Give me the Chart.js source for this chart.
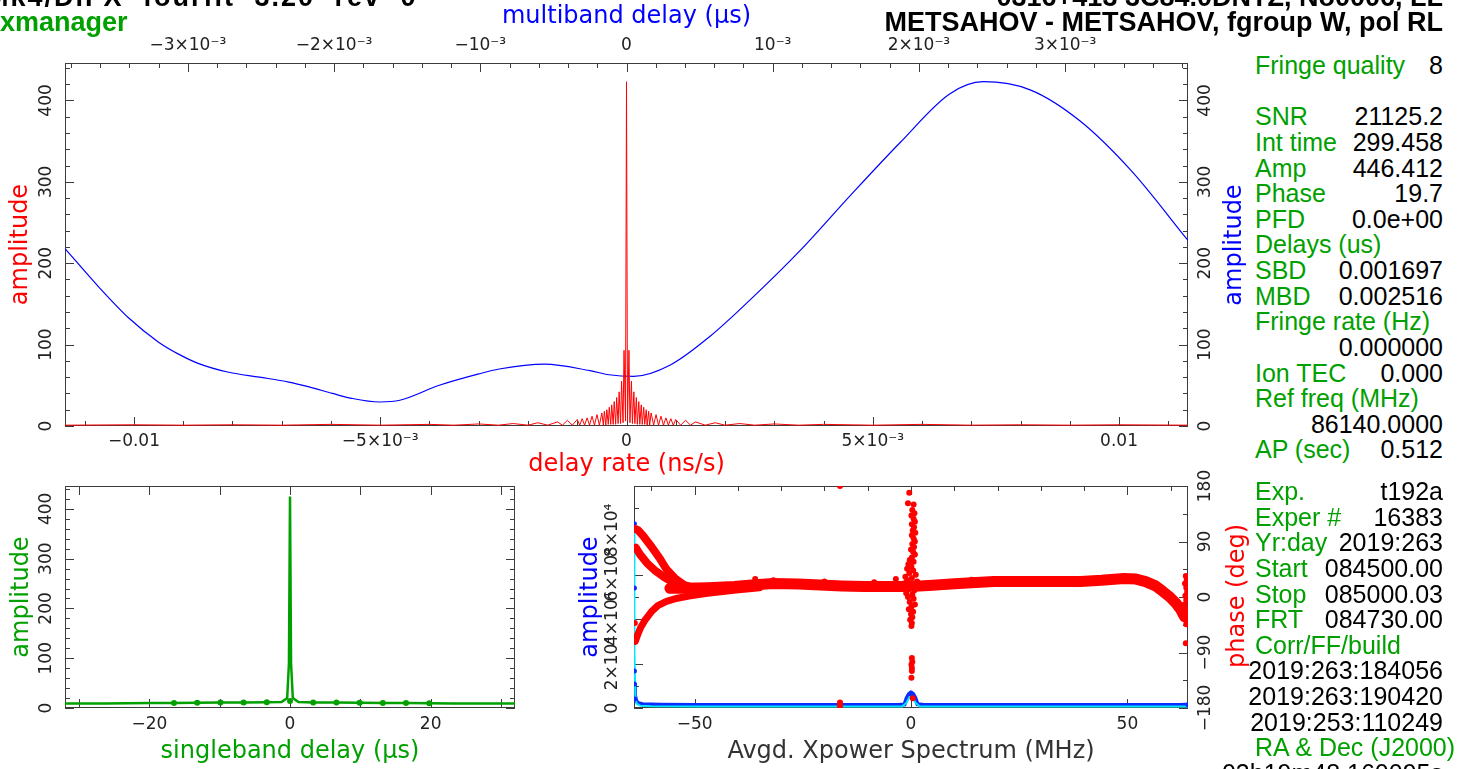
<!DOCTYPE html>
<html>
<head>
<meta charset="utf-8">
<title>fourfit fringe plot</title>
<script src="https://cdn.jsdelivr.net/npm/chart.js@4.4.1/dist/chart.umd.min.js"></script>
<style>
  body { margin: 0; background: #fff; }
  #page { position: relative; width: 1462px; height: 769px; overflow: hidden; font-family: 'Liberation Sans', Arial, sans-serif; }
  canvas { position: absolute; }
  .hdr { position: absolute; font-weight: bold; font-size: 27px; line-height: 27px; white-space: nowrap; }
  .side { position: absolute; left: 1255px; width: 188px; font-size: 25px; line-height: 25.64px; }
  .side div { position: relative; height: 25.64px; white-space: nowrap; color: #00a000; }
  .side span { position: absolute; right: 0; top: 0; color: #000; }
  .vtitle { position: absolute; font-family: 'DejaVu Sans'; font-size: 24px; white-space: nowrap; transform: translate(-50%, -50%) rotate(-90deg); }
</style>
</head>
<body>
<div id="page">
  <canvas id="rateChart" width="1250" height="480" style="left:0;top:0"></canvas>
  <canvas id="sbdChart" width="560" height="299" style="left:0;top:470px"></canvas>
  <canvas id="xpChart" width="700" height="299" style="left:560px;top:470px"></canvas>

  <div class="hdr" style="left:-14px;top:-16px;letter-spacing:2px;word-spacing:10px">Mk4/DiFX fourfit 3.20 rev 0</div>
  <div class="hdr" style="right:19px;top:-16px">0316+413 3C84.0DNTZ, No0006, LL</div>
  <div class="hdr" style="left:0;top:9px;color:#00a000">xmanager</div>
  <div class="hdr" style="right:19px;top:9px">METSAHOV - METSAHOV, fgroup W, pol RL</div>

  <div class="vtitle" style="left:1233px;top:245px;color:#0000ff">amplitude</div>
  <div class="vtitle" style="left:1236px;top:596px;color:#ff0000">phase (deg)</div>

  <div class="side" style="top:53px">
    <div>Fringe quality<span>8</span></div>
    <div></div>
    <div>SNR<span>21125.2</span></div>
    <div>Int time<span>299.458</span></div>
    <div>Amp<span>446.412</span></div>
    <div>Phase<span>19.7</span></div>
    <div>PFD<span>0.0e+00</span></div>
    <div>Delays (us)</div>
    <div>SBD<span>0.001697</span></div>
    <div>MBD<span>0.002516</span></div>
    <div>Fringe rate (Hz)</div>
    <div><span>0.000000</span></div>
    <div>Ion TEC<span>0.000</span></div>
    <div>Ref freq (MHz)</div>
    <div><span>86140.0000</span></div>
    <div>AP (sec)<span>0.512</span></div>
  </div>
  <div class="side" style="top:479px">
    <div>Exp.<span>t192a</span></div>
    <div>Exper #<span>16383</span></div>
    <div>Yr:day<span>2019:263</span></div>
    <div>Start<span>084500.00</span></div>
    <div>Stop<span>085000.03</span></div>
    <div>FRT<span>084730.00</span></div>
    <div>Corr/FF/build</div>
    <div><span>2019:263:184056</span></div>
    <div><span>2019:263:190420</span></div>
    <div><span>2019:253:110249</span></div>
    <div>RA &amp; Dec (J2000)</div>
    <div><span>03h19m48.160095s</span></div>
  </div>
</div>

<script>
// delay rate spectrum (ns/s), red
const rateX = [-0.0114, -0.01, -0.009, -0.008, -0.007, -0.006, -0.005, -0.004, -0.0035, -0.003,
  -0.0026, -0.0023, -0.002, -0.0018, -0.0016, -0.0014, -0.0013, -0.0012, -0.0011, -0.001,
  -0.00095, -0.0009, -0.00085, -0.0008, -0.00075, -0.0007, -0.00065, -0.0006, -0.00055, -0.0005,
  -0.00047, -0.00045, -0.00042, -0.0004, -0.00037, -0.00035, -0.00032, -0.0003, -0.00027, -0.00025,
  -0.00022, -0.0002, -0.00017, -0.00015, -0.00012, -0.0001, -0.00007, -0.00005, -0.00002, 0,
  0.00002, 0.00005, 0.00007, 0.0001, 0.00012, 0.00015, 0.00017, 0.0002, 0.00022, 0.00025,
  0.00027, 0.0003, 0.00032, 0.00035, 0.00037, 0.0004, 0.00042, 0.00045, 0.00047, 0.0005,
  0.00055, 0.0006, 0.00065, 0.0007, 0.00075, 0.0008, 0.00085, 0.0009, 0.00095, 0.001,
  0.0011, 0.0012, 0.0013, 0.0014, 0.0016, 0.0018, 0.002, 0.0023, 0.0026, 0.003,
  0.0035, 0.004, 0.005, 0.006, 0.007, 0.008, 0.009, 0.01, 0.0114];
const rateAmp = [1, 1.5, 1, 1.5, 1, 2, 1, 2, 1, 2.5,
  1, 3, 1, 4, 1, 5, 1, 7, 1, 8,
  1, 9, 1, 10, 1, 12, 1, 14, 1, 16,
  1, 18, 1, 20, 2, 23, 2, 26, 2, 30,
  2, 35, 3, 42, 3, 55, 4, 93, 6, 423,
  6, 93, 4, 55, 3, 42, 3, 35, 2, 30,
  2, 26, 2, 23, 2, 20, 1, 18, 1, 16,
  1, 14, 1, 12, 1, 10, 1, 9, 1, 8,
  1, 7, 1, 5, 1, 4, 1, 3, 1, 2.5,
  1, 2, 1, 2, 1, 1.5, 1, 1.5, 1];

// multiband delay amplitude (us), blue
const mbdX = [-0.00384, -0.00361, -0.0034, -0.0032, -0.00306, -0.00293, -0.00272, -0.00251, -0.00231, -0.00217,
  -0.00201, -0.00188, -0.00169, -0.00155, -0.00128, -0.00101, -0.00087, -0.00056, -0.00025, -0.00012,
  0.00005, 0.0003, 0.00057, 0.00084, 0.00119, 0.00153, 0.00187, 0.00221, 0.00244, 0.00276,
  0.0031, 0.00345, 0.00384];
const mbdAmp = [218, 171, 132, 103, 88, 77, 66, 60, 54, 48,
  40, 34, 29.5, 31.6, 50, 64, 70, 76, 68, 63,
  61, 75, 110, 154, 216, 283, 348, 408, 423, 413,
  375, 314, 228];

// singleband delay (us), green
const sbdX = [-32, -29.7, -26.4, -23.1, -19.8, -16.5, -13.2, -9.9, -6.6, -3.3, -1.2, -0.4, -0.15, 0,
  0.15, 0.4, 1.2, 3.3, 6.6, 9.9, 13.2, 16.5, 19.8, 23.1, 26.4, 29.7, 32];
const sbdAmp = [9, 9, 9, 9.5, 10, 10, 10.5, 11, 11, 11.5, 12, 20, 90, 425,
  90, 20, 12, 11, 11, 10.5, 10, 10, 9.5, 9, 9, 9, 9];
const sbdDotX = [-16.5, -13.2, -9.9, -6.6, -3.3, 0, 3.3, 6.6, 9.9, 13.2, 16.5, 19.8];
const sbdDotAmp = [10, 10.5, 11, 11, 11.5, 14, 11, 11, 10.5, 10, 10, 9.5];

// averaged cross power spectrum (MHz)
const xpBlueX = [-64, -63.8, -63.5, -63, -62, -58, -50, -40, -30, -20, -10, -3, -1.5, -1, -0.5, 0,
  0.5, 1, 1.5, 3, 10, 20, 30, 40, 50, 58, 62, 63.5, 64];
const xpBlueAmp = [11000, 6000, 3200, 2200, 1700, 1500, 1400, 1400, 1400, 1400, 1400, 1400, 1600, 4500, 6200, 6800,
  6300, 4600, 1700, 1400, 1400, 1400, 1400, 1400, 1400, 1400, 1400, 1500, 1500];
const xpCyanX = [-64, -63.9, -63.7, -63.4, -62.5, -60, -50, -30, -10, -2, -1, -0.4, 0, 0.4, 1, 2, 10, 30, 50, 60, 64];
const xpCyanAmp = [80000, 25000, 6000, 2000, 1000, 800, 700, 700, 700, 700, 2500, 4800, 5200, 4800, 2500, 700, 700, 700, 700, 700, 700];
const xpDotX = [-63.9, -63.9, -63.9, -63.9, -63.8, 0, 0.3, 64];
const xpDotAmp = [83000, 54000, 16700, 10800, 4000, 6800, 6000, 1500];

// phase (deg): main band and the three branches at the low edge
const phaseMainX = [-55.7, -52, -47, -40.8, -36, -31.8, -26, -21, -16, -10.9, -5, -2, 0, 2, 5, 9.2, 14, 19.2,
  24, 29.1, 34, 39.2, 44, 49.2, 52, 54.2, 56.5, 58.2, 59.8, 61.2, 62.3, 63.2];
const phaseMainDeg = [14, 14, 15, 17, 20, 22, 21, 19.5, 18, 17, 17, 17, 18, 18, 19, 21, 23, 25,
  25, 25, 25, 25, 27, 30, 29, 25, 18, 9, 0, -10, -20, -32];
const phaseUpperX = [-63.6, -63, -62, -60, -58, -56.5, -54.5, -52.5, -50.5];
const phaseUpperDeg = [110, 108, 100, 82, 62, 45, 30, 20, 15];
const phaseMidX = [-63.6, -62.5, -61, -59, -57, -55, -53, -50, -47];
const phaseMidDeg = [80, 68, 55, 42, 32, 24, 19, 15, 14];
const phaseLowX = [-63.7, -63.2, -62.5, -61.5, -60, -58.5, -56.5, -54, -51, -47, -41, -35];
const phaseLowDeg = [-72, -62, -50, -38, -24, -14, -7, -2, 2, 6, 11, 15];
const phaseDotX = [-0.4, -0.7, 0.6, 0.3, 0.8, 0.1, 0.6, 0.9, 0.2, 0.7, 0.4, 1.0, 0.2, 0.6, 0.9, 0.3, 0.7, 0.0,
  0.5, 0.9, 0.2, -0.3, 0.6, -0.6, 0.1, -0.9, 0.5, -0.4, 1.1, -1.3, 0.2, -0.9, 1.4, -1.6, -0.6, 0.8,
  -1.1, 0.3, -0.7, 0.6, -0.3, 0.9, 0.1, -0.5, 0.5, 0.0, 0.3, -0.2, 0.2, 0.1, 0.2, 0.3, 0.1, 0.2,
  0.2, 0.1, 0.4, -16.4, -16.4, -16.4, -16.4, -63.8, 63.5, 63.7, 63.3, 63.6, 63.8, 63.4, 63.6, 63.2,
  63.7, 63.5, 63.4, 63.6, 63.5, -36, -31.8, -20, -8.5, -3.5, 14, 18.5, 26, 40];
const phaseDotDeg = [169, 152, 150, 141, 136, 132, 127, 122, 118, 113, 108, 104, 100, 95, 90, 86, 81, 77,
  73, 69, 64, 60, 57, 53, 49, 46, 43, 39, 36, 33, 31, 27, 25, 22, 12, 11,
  6, 4, 0, -3, -8, -12, -16, -20, -24, -28, -33, -37, -42, -47, -99, -105, -110, -115,
  -120, -131, -164, 180, -171, -174, -177, -42, 34, 28, 22, 15, 8, 2, -5, -12,
  -20, -28, -36, -44, -75, 29, 27, 25, 24, 29, 28, 27, 27, 28];

// axis ticks and their labels
const rateTicks = [-0.01, -0.005, 0, 0.005, 0.01];
const rateTickLabels = ['−0.01', '−5×10⁻³', '0', '5×10⁻³', '0.01'];
const mbdTicks = [-0.003, -0.002, -0.001, 0, 0.001, 0.002, 0.003];
const mbdTickLabels = ['−3×10⁻³', '−2×10⁻³', '−10⁻³', '0', '10⁻³', '2×10⁻³', '3×10⁻³'];
const ampTicks = [0, 100, 200, 300, 400];
const ampTickLabels = ['0', '100', '200', '300', '400'];
const sbdTicks = [-20, 0, 20];
const sbdTickLabels = ['−20', '0', '20'];
const freqTicks = [-50, 0, 50];
const freqTickLabels = ['−50', '0', '50'];
const xpAmpTicks = [0, 20000, 40000, 60000, 80000];
const xpAmpTickLabels = ['0', '2×10⁴', '4×10⁴', '6×10⁴', '8×10⁴'];
const phaseTicks = [-180, -90, 0, 90, 180];
const phaseTickLabels = ['−180', '−90', '0', '90', '180'];

const RED = '#ff0000', BLUE = '#0000ff', GREEN = '#00a000', CYAN = '#00e8ff';
const tickFont = { family: 'DejaVu Sans', size: 17 };
const titleFont = { family: 'DejaVu Sans', size: 24 };

function pts(xs, ys) {
    return xs.map((x, i) => ({ x: x, y: ys[i] }));
}

function steps(from, to, step) {
    const out = [];
    for (let v = from; v <= to + step / 1000; v += step) out.push(+v.toFixed(7));
    return out;
}

// PGPLOT style box: frame plus inward ticks on every side
const pgFrame = {
    id: 'pgFrame',
    beforeDatasetsDraw(chart, args, opts) {
        const { ctx, chartArea: a } = chart;
        ctx.save();
        ctx.strokeStyle = '#3c3c3c';
        ctx.lineWidth = 1;
        ctx.strokeRect(Math.round(a.left) + 0.5, Math.round(a.top) + 0.5, Math.round(a.width) - 1, Math.round(a.height) - 1);
        ctx.beginPath();
        opts.sides.forEach(s => {
            const sc = chart.scales[s.scale];
            const mark = (v, len) => {
                const p = Math.round(sc.getPixelForValue(v)) + 0.5;
                if (s.edge === 'bottom') { ctx.moveTo(p, a.bottom); ctx.lineTo(p, a.bottom - len); }
                else if (s.edge === 'top') { ctx.moveTo(p, a.top); ctx.lineTo(p, a.top + len); }
                else if (s.edge === 'left') { ctx.moveTo(a.left, p); ctx.lineTo(a.left + len, p); }
                else { ctx.moveTo(a.right, p); ctx.lineTo(a.right - len, p); }
            };
            (s.minor || []).forEach(v => mark(v, 5));
            s.major.forEach(v => mark(v, 9));
        });
        ctx.stroke();
        ctx.restore();
    }
};

function makeScale(o) {
    const horizontal = o.position === 'top' || o.position === 'bottom';
    return {
        type: 'linear',
        position: o.position,
        min: o.min,
        max: o.max,
        display: true,
        grid: { display: false, drawTicks: false },
        border: { display: false },
        afterBuildTicks: scale => { scale.ticks = o.ticks.map(v => ({ value: v })); },
        afterFit: scale => {
            if (horizontal) scale.height = o.size;
            else scale.width = o.size;
        },
        ticks: {
            autoSkip: false,
            padding: o.pad,
            color: '#222',
            font: tickFont,
            minRotation: horizontal ? 0 : 90,
            maxRotation: horizontal ? 0 : 90,
            crossAlign: horizontal ? 'near' : 'center',
            callback: (v, i) => (o.labels ? o.labels[i] : '')
        },
        title: o.title
            ? { display: true, text: o.title, color: o.titleColor, font: titleFont, padding: o.titlePad }
            : { display: false }
    };
}

const baseOptions = {
    responsive: false,
    animation: false,
    devicePixelRatio: 1,
    events: [],
    plugins: { legend: { display: false }, tooltip: { enabled: false } }
};

// top panel: delay rate (red) and multiband delay (blue)
new Chart(document.getElementById('rateChart'), {
    type: 'scatter',
    data: {
        datasets: [
            {
                data: pts(rateX, rateAmp), xAxisID: 'x', yAxisID: 'y', showLine: true,
                borderColor: RED, borderWidth: 1, pointRadius: 0, order: 0
            },
            {
                data: pts(mbdX, mbdAmp), xAxisID: 'x2', yAxisID: 'y2', showLine: true,
                borderColor: BLUE, borderWidth: 1.2, pointRadius: 0, cubicInterpolationMode: 'monotone', order: 1
            }
        ]
    },
    options: Object.assign({}, baseOptions, {
        layout: { padding: 0 },
        scales: {
            x: makeScale({ position: 'bottom', min: -0.0114, max: 0.0114, ticks: rateTicks, labels: rateTickLabels,
                size: 54, pad: 5, title: 'delay rate (ns/s)', titleColor: RED, titlePad: { top: 0, bottom: 1 } }),
            x2: makeScale({ position: 'top', min: -0.00384, max: 0.00384, ticks: mbdTicks, labels: mbdTickLabels,
                size: 63, pad: 7, title: 'multiband delay (μs)', titleColor: BLUE, titlePad: { top: 2, bottom: 0 } }),
            y: makeScale({ position: 'left', min: 0, max: 446, ticks: ampTicks, labels: ampTickLabels,
                size: 65, pad: 2, title: 'amplitude', titleColor: RED, titlePad: { top: 6, bottom: 0 } }),
            y2: makeScale({ position: 'right', min: 0, max: 446, ticks: ampTicks, labels: ampTickLabels,
                size: 62, pad: 1 })
        },
        plugins: Object.assign({}, baseOptions.plugins, {
            pgFrame: {
                sides: [
                    { scale: 'x', edge: 'bottom', major: rateTicks, minor: steps(-0.011, 0.011, 0.001) },
                    { scale: 'x2', edge: 'top', major: mbdTicks, minor: steps(-0.0038, 0.0038, 0.0002) },
                    { scale: 'y', edge: 'left', major: ampTicks, minor: steps(0, 440, 20) },
                    { scale: 'y2', edge: 'right', major: ampTicks, minor: steps(0, 440, 20) }
                ]
            }
        })
    }),
    plugins: [pgFrame]
});

// bottom left: singleband delay
new Chart(document.getElementById('sbdChart'), {
    type: 'scatter',
    data: {
        datasets: [
            {
                data: pts(sbdDotX, sbdDotAmp), pointRadius: 3, pointBorderWidth: 0,
                backgroundColor: GREEN, borderColor: GREEN, order: 0
            },
            {
                data: pts(sbdX, sbdAmp), showLine: true, borderColor: GREEN, borderWidth: 2.5,
                pointRadius: 0, order: 1
            }
        ]
    },
    options: Object.assign({}, baseOptions, {
        layout: { padding: { top: 16, right: 45, left: 0, bottom: 0 } },
        scales: {
            x: makeScale({ position: 'bottom', min: -32, max: 32, ticks: sbdTicks, labels: sbdTickLabels,
                size: 61, pad: 6, title: 'singleband delay (μs)', titleColor: GREEN, titlePad: { top: 0, bottom: 3 } }),
            y: makeScale({ position: 'left', min: 0, max: 446, ticks: ampTicks, labels: ampTickLabels,
                size: 65, pad: 2, title: 'amplitude', titleColor: GREEN, titlePad: { top: 7, bottom: 0 } })
        },
        plugins: Object.assign({}, baseOptions.plugins, {
            pgFrame: {
                sides: [
                    { scale: 'x', edge: 'bottom', major: steps(-30, 30, 10) },
                    { scale: 'x', edge: 'top', major: steps(-30, 30, 10) },
                    { scale: 'y', edge: 'left', major: ampTicks, minor: steps(0, 440, 20) },
                    { scale: 'y', edge: 'right', major: ampTicks, minor: steps(0, 440, 20) }
                ]
            }
        })
    }),
    plugins: [pgFrame]
});

// bottom right: averaged cross power spectrum, amplitude and phase
const bandStyle = { showLine: true, borderColor: RED, pointRadius: 0, borderCapStyle: 'round',
    borderJoinStyle: 'round', xAxisID: 'x', yAxisID: 'y2', order: 2 };
new Chart(document.getElementById('xpChart'), {
    type: 'scatter',
    data: {
        datasets: [
            {
                data: pts(xpBlueX, xpBlueAmp), showLine: true, borderColor: '#0a2cff', borderWidth: 4,
                pointRadius: 0, yAxisID: 'y', order: 6
            },
            {
                data: pts(xpCyanX, xpCyanAmp), showLine: true, borderColor: CYAN, borderWidth: 2,
                pointRadius: 0, yAxisID: 'y', order: 5
            },
            {
                data: pts(xpDotX, xpDotAmp), pointRadius: 2.5, pointBorderWidth: 0,
                backgroundColor: '#0a2cff', yAxisID: 'y', order: 4
            },
            Object.assign({ data: pts(phaseMainX, phaseMainDeg), borderWidth: 11 }, bandStyle),
            Object.assign({ data: pts(phaseUpperX, phaseUpperDeg), borderWidth: 8 }, bandStyle),
            Object.assign({ data: pts(phaseMidX, phaseMidDeg), borderWidth: 8 }, bandStyle),
            Object.assign({ data: pts(phaseLowX, phaseLowDeg), borderWidth: 7 }, bandStyle),
            {
                data: pts(phaseDotX, phaseDotDeg), pointRadius: 3, pointBorderWidth: 0,
                backgroundColor: RED, yAxisID: 'y2', order: 1
            }
        ]
    },
    options: Object.assign({}, baseOptions, {
        layout: { padding: { top: 16, right: 0, left: 0, bottom: 0 } },
        scales: {
            x: makeScale({ position: 'bottom', min: -64, max: 64, ticks: freqTicks, labels: freqTickLabels,
                size: 61, pad: 6, title: 'Avgd. Xpower Spectrum (MHz)', titleColor: '#333', titlePad: { top: 0, bottom: 3 } }),
            y: makeScale({ position: 'left', min: 0, max: 100000, ticks: xpAmpTicks, labels: xpAmpTickLabels,
                size: 74, pad: -5, title: 'amplitude', titleColor: BLUE, titlePad: { top: 16, bottom: 0 } }),
            y2: makeScale({ position: 'right', min: -180, max: 180, ticks: phaseTicks, labels: phaseTickLabels,
                size: 72, pad: -6 })
        },
        plugins: Object.assign({}, baseOptions.plugins, {
            pgFrame: {
                sides: [
                    { scale: 'x', edge: 'bottom', major: freqTicks, minor: steps(-60, 60, 10) },
                    { scale: 'x', edge: 'top', major: freqTicks, minor: steps(-60, 60, 10) },
                    { scale: 'y', edge: 'left', major: xpAmpTicks, minor: steps(10000, 90000, 20000) },
                    { scale: 'y2', edge: 'right', major: phaseTicks, minor: steps(-135, 135, 90) }
                ]
            }
        })
    }),
    plugins: [pgFrame]
});
</script>
</body>
</html>
